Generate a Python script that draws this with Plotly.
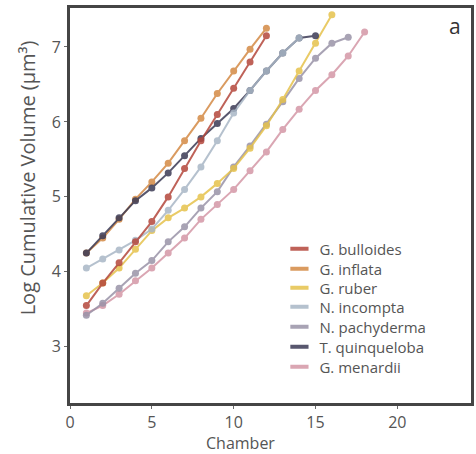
import plotly.graph_objects as go

species = ["G. bulloides", "G. inflata", "G. ruber", "N. incompta",
           "N. pachyderma", "T. quinqueloba", "G. menardii"]
colors = {
    "G. bulloides": "#b4473c",
    "G. inflata": "#d48a45",
    "G. ruber": "#e6c24c",
    "N. incompta": "#a9b7c6",
    "N. pachyderma": "#9a93a8",
    "T. quinqueloba": "#3b3a55",
    "G. menardii": "#d497a6",
}

bulloides = [3.55, 3.85, 4.12, 4.40, 4.67, 5.00, 5.38, 5.75, 6.10, 6.45, 6.80, 7.15]
inflata = [4.25, 4.45, 4.70, 4.97, 5.20, 5.45, 5.75, 6.05, 6.38, 6.68, 6.97, 7.25]
ruber = [3.68, 3.85, 4.05, 4.30, 4.55, 4.72, 4.85, 5.00, 5.18, 5.38, 5.65, 5.95,
         6.30, 6.68, 7.05, 7.43]
incompta = [4.05, 4.17, 4.29, 4.42, 4.57, 4.82, 5.10, 5.40, 5.75, 6.12, 6.42, 6.68,
            6.92, 7.12]
pachyderma = [3.42, 3.58, 3.78, 3.98, 4.15, 4.40, 4.60, 4.85, 5.07, 5.40, 5.68, 5.97,
              6.27, 6.58, 6.85, 7.05, 7.13]
quinqueloba = [4.25, 4.48, 4.72, 4.95, 5.12, 5.32, 5.55, 5.78, 5.98, 6.18, 6.42, 6.68,
               6.92, 7.12, 7.15]
menardii = [3.45, 3.55, 3.70, 3.88, 4.05, 4.25, 4.45, 4.70, 4.90, 5.10, 5.35, 5.60,
            5.90, 6.17, 6.42, 6.63, 6.88, 7.20]

values = {
    "G. bulloides": bulloides,
    "G. inflata": inflata,
    "G. ruber": ruber,
    "N. incompta": incompta,
    "N. pachyderma": pachyderma,
    "T. quinqueloba": quinqueloba,
    "G. menardii": menardii,
}

draw_order = ["G. menardii", "N. pachyderma", "G. ruber", "G. inflata",
              "T. quinqueloba", "N. incompta", "G. bulloides"]

font_family = "Open Sans, Noto Sans, sans-serif"
text_color = "#555555"

# plot area in pixels
pl, pr, pt, pb = 70, 474, 8, 403


def px2paper_x(px):
    return (px - pl) / (pr - pl)


def px2paper_y(py):
    return 1 - (py - pt) / (pb - pt)


fig = go.Figure()
for name in draw_order:
    ys = values[name]
    xs = list(range(1, len(ys) + 1))
    fig.add_trace(go.Scatter(
        x=xs, y=ys, mode="lines+markers", name=name, showlegend=False,
        line=dict(color=colors[name], width=2),
        marker=dict(color=colors[name], size=7),
        opacity=0.85,
    ))

# one legend per entry so the rows can be spaced like the reference
legend_rows_px = [249, 269, 288, 307, 327, 347, 367]
legend_layouts = {}
for i, name in enumerate(species):
    key = "legend" if i == 0 else f"legend{i + 1}"
    fig.add_trace(go.Scatter(
        x=[None], y=[None], mode="markers", name=name, showlegend=True,
        legend=key,
        marker=dict(symbol="line-ew", size=13, color=colors[name],
                    line=dict(width=4, color=colors[name])),
        opacity=0.85,
    ))
    legend_layouts[key] = dict(
        x=px2paper_x(281), y=px2paper_y(legend_rows_px[i]),
        xanchor="left", yanchor="middle",
        bgcolor="rgba(0,0,0,0)", borderwidth=0,
        font=dict(family=font_family, size=15, color=text_color),
        itemsizing="trace",
    )

axis_common = dict(
    showline=True, mirror=True, linecolor="#454545", linewidth=3,
    showgrid=False, zeroline=False, ticks="outside", ticklen=3,
    tickcolor="#6a6a6a", tickwidth=1,
    tickfont=dict(family=font_family, size=16, color=text_color),
)

fig.update_layout(
    width=476, height=454,
    margin=dict(l=pl, r=476 - pr, t=pt, b=454 - pb),
    paper_bgcolor="white", plot_bgcolor="white",
    font=dict(family=font_family, color=text_color),
    xaxis=dict(range=[0, 24.5], tickvals=[0, 5, 10, 15, 20], **axis_common),
    yaxis=dict(range=[2.25, 7.52], tickvals=[3, 4, 5, 6, 7], **axis_common),
    annotations=[
        dict(text="Log Cumulative Volume (µm³)", x=px2paper_x(27),
             y=px2paper_y(178), xref="paper", yref="paper", showarrow=False,
             textangle=-90, xanchor="center", yanchor="middle",
             font=dict(family=font_family, size=20, color=text_color)),
        dict(text="Chamber", x=px2paper_x(242), y=px2paper_y(443),
             xref="paper", yref="paper", showarrow=False,
             xanchor="center", yanchor="middle",
             font=dict(family=font_family, size=16, color=text_color)),
        dict(text="a", x=px2paper_x(458), y=px2paper_y(26),
             xref="paper", yref="paper", showarrow=False,
             xanchor="center", yanchor="middle",
             font=dict(family=font_family, size=21, color="#333333")),
    ],
    **legend_layouts,
)

fig.write_html("out.html")
